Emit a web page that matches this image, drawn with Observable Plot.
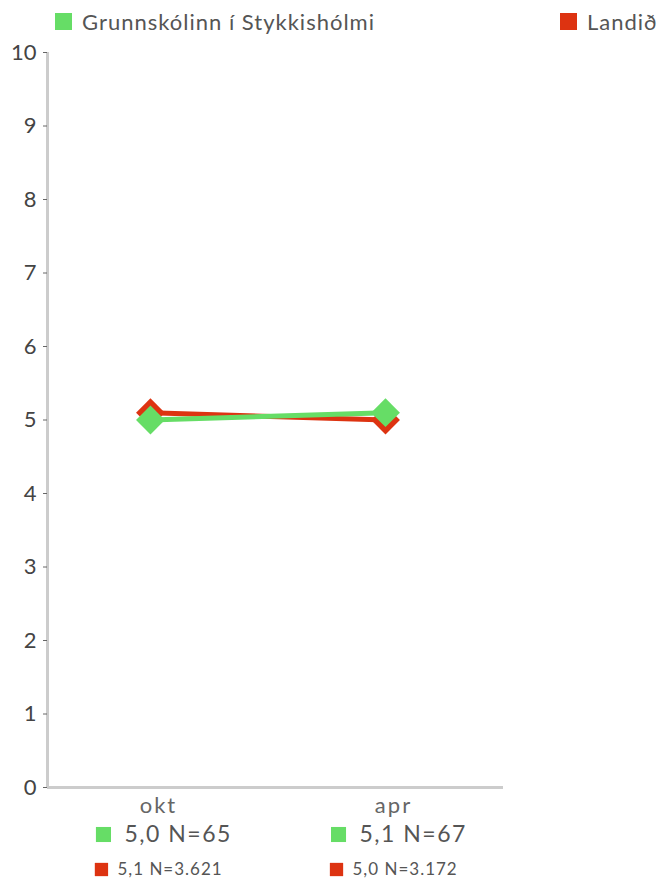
<!DOCTYPE html>
<html><head><meta charset="utf-8">
<script src="https://cdn.jsdelivr.net/npm/d3@7"></script>
<script src="https://cdn.jsdelivr.net/npm/@observablehq/plot@0.6"></script>
<style>
body{margin:0;background:#fff;font-family:Lato,"Open Sans",sans-serif;}
#wrap{position:relative;width:665px;height:879px;overflow:hidden;}
#legend{position:relative;height:30px;width:665px;}
.li{position:absolute;top:8px;font-size:22px;color:#555;white-space:nowrap;display:flex;align-items:center;letter-spacing:1px;}
.sw{display:inline-block;width:17px;height:17px;margin-right:10px;}
.xax text{letter-spacing:2px;}
.rowa text{letter-spacing:1.5px;}
.rowb text{letter-spacing:1px;}
</style></head>
<body><div id="wrap"><div id="legend"></div><div id="chart"></div></div>
<script>
const months = ["okt", "apr"];
const seriesNames = ["Grunnskólinn í Stykkishólmi", "Landið"];
const seriesColors = ["#66dd66", "#dd3311"];
const schoolValues = [5.0, 5.1];
const schoolN = ["65", "67"];
const countryValues = [5.1, 5.0];
const countryN = ["3.621", "3.172"];
const yTicks = [0,1,2,3,4,5,6,7,8,9,10];

const legend = document.getElementById("legend");
const legX = [55, 560];
seriesNames.forEach((n,i)=>{
  const d = document.createElement("div");
  d.className="li"; d.style.left = legX[i]+"px";
  d.innerHTML = `<span class="sw" style="background:${seriesColors[i]}"></span>${n}`;
  legend.appendChild(d);
});

const fmt = v => v.toFixed(1).replace(".", ",");
const school = months.map((m,i)=>({i, m, v: schoolValues[i], label: `${fmt(schoolValues[i])} N=${schoolN[i]}`}));
const country = months.map((m,i)=>({i, m, v: countryValues[i], label: `${fmt(countryValues[i])} N=${countryN[i]}`}));

const xmin = -0.438, xmax = 1.502;
const chart = Plot.plot({
  width: 665, height: 849,
  marginLeft: 47, marginRight: 162, marginTop: 22, marginBottom: 92,
  style: {fontFamily: "Lato, 'Open Sans', sans-serif", color: "#555", background: "#fff"},
  x: {domain: [xmin, xmax]},
  y: {domain: [0, 10]},
  marks: [
    Plot.ruleY([0], {stroke: "#cccccc", strokeWidth: 3}),
    Plot.ruleX([xmin], {y1: 0, y2: 10, stroke: "#cccccc", strokeWidth: 3}),
    Plot.axisY({ticks: yTicks, tickSize: 4, tickPadding: 7, fontSize: 22, stroke: "#666", fill: "#444", label: null, tickFormat: d => String(d)}),
    Plot.axisX({ticks: [0,1], tickSize: 0, tickPadding: 10, dx: 8, fontSize: 22, fill: "#666", tickFormat: i => months[i], label: null, className: "xax"}),
    Plot.line(country, {x: "i", y: "v", stroke: seriesColors[1], strokeWidth: 5}),
    Plot.line(school, {x: "i", y: "v", stroke: seriesColors[0], strokeWidth: 5}),
    Plot.dot(country, {x: "i", y: "v", symbol: "square", r: 11.5, rotate: 45, fill: seriesColors[1]}),
    Plot.dot(school, {x: "i", y: "v", symbol: "square", r: 11.5, rotate: 45, fill: seriesColors[0]}),
    // bottom value rows
    Plot.dot(school, {x: "i", y: () => 0, dx: -47, dy: 47, symbol: "square", r: 8.5, fill: seriesColors[0]}),
    Plot.text(school, {x: "i", y: () => 0, dx: -26, dy: 47, text: "label", textAnchor: "start", fontSize: 23, fill: "#555", className: "rowa"}),
    Plot.dot(country, {x: "i", y: () => 0, dx: -49, dy: 82, symbol: "square", r: 7.5, fill: seriesColors[1]}),
    Plot.text(country, {x: "i", y: () => 0, dx: -33, dy: 82, text: "label", textAnchor: "start", fontSize: 17, fill: "#555", className: "rowb"})
  ]
});
document.getElementById("chart").appendChild(chart);
</script></body></html>
